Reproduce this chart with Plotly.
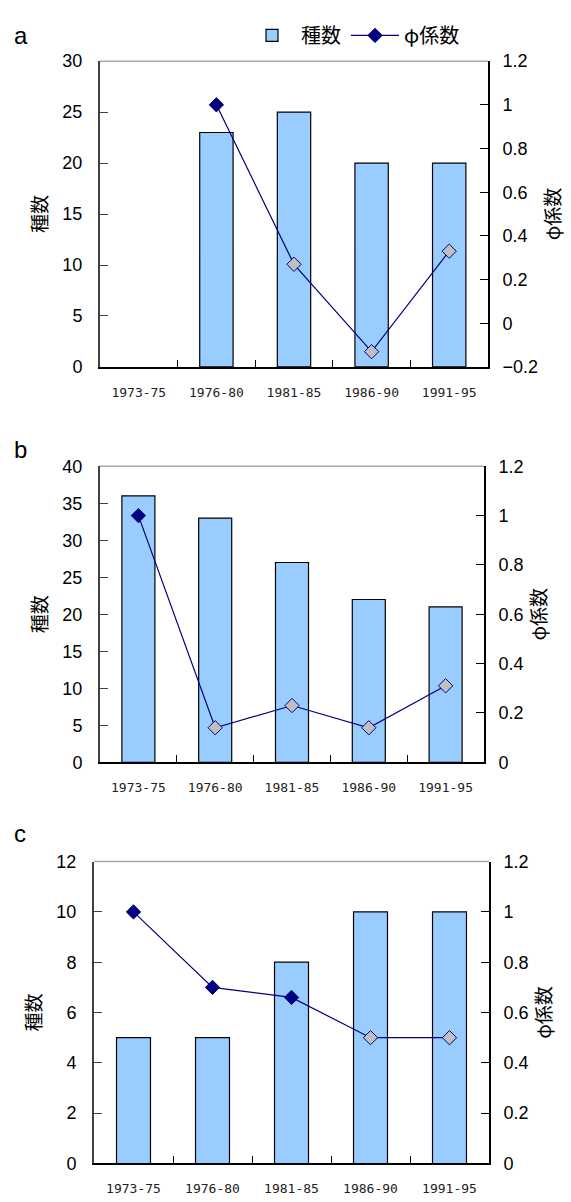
import plotly.graph_objects as go

# ---- data ----
periods = ["1973-75", "1976-80", "1981-85", "1986-90", "1991-95"]

species_a = [None, 23, 25, 20, 20]
phi_a = [None, 1.0, 0.27, -0.13, 0.33]
sig_a = [True, True, False, False, False]

species_b = [36, 33, 27, 22, 21]
phi_b = [1.0, 0.14, 0.23, 0.14, 0.31]
sig_b = [True, False, False, False, False]

species_c = [5, 5, 8, 10, 10]
phi_c = [1.0, 0.70, 0.66, 0.50, 0.50]
sig_c = [True, True, True, False, False]

panel_labels = ["a", "b", "c"]
left_ranges = [[0, 30], [0, 40], [0, 12]]
left_dticks = [5, 5, 2]
right_ranges = [[-0.2, 1.2], [0, 1.2], [0, 1.2]]

# ---- style / layout geometry ----
W, H = 571, 1202
NAVY = "#000080"
GRAY = "#C0C0C0"
BAR = "#99CCFF"
JP = "Noto Sans CJK JP"
# plot boxes in pixels: (left, right, top, bottom)
boxes = [(100, 488, 52, 363), (100, 484, 464, 765), (94, 489, 866, 1173)]
label_y = [26, 447, 837]

species = [species_a, species_b, species_c]
phis = [phi_a, phi_b, phi_c]
sigs = [sig_a, sig_b, sig_c]

fig = go.Figure()
layout = dict(
    width=W, height=H, autosize=False,
    margin=dict(l=0, r=0, t=0, b=0),
    paper_bgcolor="white", plot_bgcolor="white",
    showlegend=True,
    legend=dict(orientation="h", x=243 / W, y=1 - 6 / H, xanchor="left", yanchor="top",
                font=dict(family=JP, size=20, color="black"), bgcolor="rgba(0,0,0,0)",
                itemwidth=48, tracegroupgap=0),
    barmode="overlay",
)
shapes = []
annotations = []

for i in range(3):
    l, r, t, b = boxes[i]
    xn = "x" if i == 0 else f"x{i+1}"
    yl = "y" if i == 0 else f"y{2*i+1}"
    yr = f"y{2*i+2}"
    xkey = "xaxis" if i == 0 else f"xaxis{i+1}"
    ylkey = "yaxis" if i == 0 else f"yaxis{2*i+1}"
    yrkey = f"yaxis{2*i+2}"

    fig.add_trace(go.Bar(
        x=periods, y=species[i], xaxis=xn, yaxis=yl, width=0.43,
        marker=dict(color=BAR, line=dict(color="black", width=1.2)),
        name="種数", showlegend=(i == 0), legendrank=1,
    ))
    fig.add_trace(go.Scatter(
        x=periods, y=phis[i], xaxis=xn, yaxis=yr, mode="lines+markers",
        line=dict(color=NAVY, width=1.2),
        marker=dict(symbol="diamond", size=11,
                    color=[NAVY if s else GRAY for s in sigs[i]],
                    line=dict(color=NAVY, width=1)),
        name="\u03c6係数", showlegend=(i == 0), legendrank=2, connectgaps=False,
    ))

    layout[xkey] = dict(
        domain=[l / W, r / W], anchor=yl, type="category",
        categoryorder="array", categoryarray=periods, range=[-0.5, 4.5],
        showline=True, linecolor="black", linewidth=2, mirror=False,
        ticks="inside", tickson="boundaries", ticklen=7, tickcolor="black", tickwidth=1,
        showgrid=False, zeroline=False, fixedrange=True,
        tickfont=dict(family="DejaVu Sans Mono", size=13, color="#222"),
        ticklabelstandoff=12,
    )
    layout[ylkey] = dict(
        domain=[1 - b / H, 1 - t / H], anchor=xn, range=left_ranges[i], dtick=left_dticks[i],
        showline=True, linecolor="#404040", linewidth=2, mirror=False,
        ticks="inside", ticklen=8, tickcolor="#404040", tickwidth=1,
        showgrid=False, zeroline=False,
        tickfont=dict(family="Liberation Sans", size=18, color="black"),
        ticklabelstandoff=12,
        title=dict(text="種数", font=dict(family=JP, size=19, color="black"), standoff=10),
    )
    layout[yrkey] = dict(
        overlaying=yl, side="right", anchor=xn, range=right_ranges[i], dtick=0.2,
        showline=True, linecolor="black", linewidth=2, mirror=False,
        ticks="inside", ticklen=8, tickcolor="black", tickwidth=1,
        showgrid=False, zeroline=False,
        tickfont=dict(family="Liberation Sans", size=18, color="black"),
        ticklabelstandoff=9,
        title=dict(text="\u03c6係数", font=dict(family=JP, size=19, color="black"), standoff=10),
    )
    # top frame edge (light gray)
    shapes.append(dict(type="line", xref=f"{xn} domain", yref=f"{yl} domain",
                       x0=0, x1=1, y0=1, y1=1, line=dict(color="#A8A8A8", width=1.5)))
    # panel letter
    annotations.append(dict(text=panel_labels[i], xref="paper", yref="paper",
                            x=12 / W, y=1 - label_y[i] / H, xanchor="left", yanchor="middle",
                            showarrow=False, font=dict(family="Liberation Sans", size=24, color="black")))

layout["shapes"] = shapes
layout["annotations"] = annotations
fig.update_layout(**layout)
fig.write_html(
    "out.html",
    config={"displayModeBar": False},
    post_script="document.body.style.margin='0px';document.body.style.padding='0px';"
                "document.body.style.overflow='hidden';",
)
